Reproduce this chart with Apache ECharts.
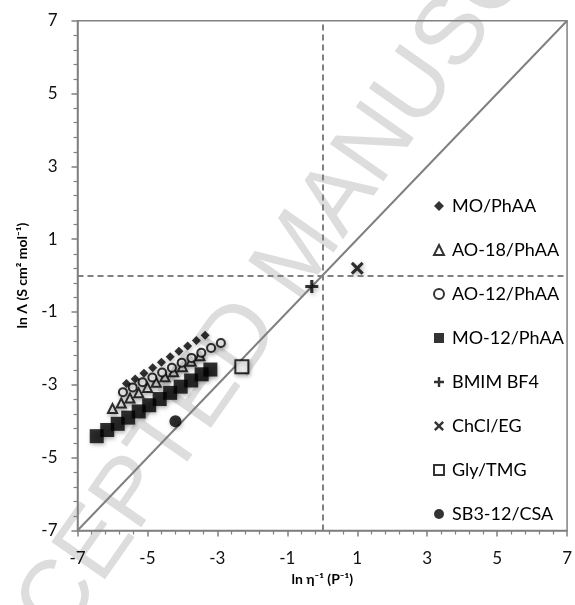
<!DOCTYPE html>
<html>
<head>
<meta charset="utf-8">
<script src="https://cdn.jsdelivr.net/npm/echarts@6/dist/echarts.min.js"></script>
<style>
html, body { margin: 0; padding: 0; background: #fff; }
#chart { width: 575px; height: 605px; }
</style>
</head>
<body>
<div id="chart"></div>
<script>
// values
const moPhaaX = [-5.6, -5.35, -5.1, -4.85, -4.6, -4.35, -4.1, -3.85, -3.6, -3.35]
const moPhaaY = [-2.96, -2.84, -2.68, -2.53, -2.38, -2.23, -2.08, -1.93, -1.78, -1.64]

const ao18X = [-6.0, -5.75, -5.5, -5.25, -5.0, -4.75, -4.5, -4.25, -4.0, -3.75, -3.5]
const ao18Y = [-3.65, -3.5, -3.36, -3.22, -3.07, -2.93, -2.78, -2.64, -2.5, -2.35, -2.2]

const ao12X = [-5.7, -5.42, -5.14, -4.86, -4.58, -4.3, -4.02, -3.74, -3.46, -3.18, -2.9]
const ao12Y = [-3.2, -3.07, -2.93, -2.8, -2.66, -2.53, -2.39, -2.26, -2.12, -1.99, -1.85]

const mo12X = [-6.45, -6.15, -5.85, -5.55, -5.25, -4.95, -4.65, -4.35, -4.05, -3.75, -3.45, -3.2]
const mo12Y = [-4.41, -4.24, -4.07, -3.9, -3.73, -3.56, -3.39, -3.22, -3.05, -2.88, -2.71, -2.58]

const bmimX = [-0.3]
const bmimY = [-0.3]
const chclX = [1.0]
const chclY = [0.2]
const glyX = [-2.3]
const glyY = [-2.5]
const sbX = [-4.2]
const sbY = [-4.0]

const names = ['MO/PhAA', 'AO-18/PhAA', 'AO-12/PhAA', 'MO-12/PhAA', 'BMIM BF4', 'ChCl/EG', 'Gly/TMG', 'SB3-12/CSA']

const zip = (xs, ys) => xs.map((x, i) => [x, ys[i]])

const plusPath = 'path://M0,3.8H10V6.2H0Z M3.8,0H6.2V10H3.8Z'
const crossPath = 'path://M0,1.7L1.7,0L5,3.3L8.3,0L10,1.7L6.7,5L10,8.3L8.3,10L5,6.7L1.7,10L0,8.3L3.3,5Z'

const shadow = {
  shadowBlur: 4,
  shadowColor: 'rgba(0,0,0,0.35)',
  shadowOffsetX: 1,
  shadowOffsetY: 2
}

const font = 'Lato'

const chart = echarts.init(document.getElementById('chart'))

const axisCommon = {
  type: 'value',
  min: -7,
  max: 7,
  interval: 2,
  axisLine: { onZero: false, lineStyle: { color: '#808080', width: 1.5 } },
  axisTick: { inside: false, length: 6, lineStyle: { color: '#808080', width: 1.5 } },
  minorTick: { show: true, splitNumber: 5, length: 4, lineStyle: { color: '#808080', width: 1.2 } },
  splitLine: { show: false },
  axisLabel: { color: '#111', fontSize: 17, fontFamily: font, margin: 20 }
}

const option = {
  backgroundColor: '#fff',
  animation: false,

  // faint page watermark
  graphic: [
    {
      type: 'text',
      x: 300,
      y: 255,
      rotation: Math.PI * 55 / 180,
      z: -10,
      silent: true,
      style: {
        text: 'ACCEPTED MANUSCRIPT',
        font: '95px "Liberation Sans"',
        fill: '#dddddd',
        align: 'center',
        verticalAlign: 'middle'
      }
    }
  ],

  grid: {
    left: 77.5,
    right: 3.5,
    top: 20.7,
    bottom: 74.5,
    show: true,
    borderColor: '#808080',
    borderWidth: 1.5,
    backgroundColor: 'transparent'
  },

  legend: {
    orient: 'vertical',
    left: 428,
    top: 191,
    itemWidth: 10,
    itemHeight: 10,
    itemGap: 24,
    data: names,
    textStyle: { color: '#000', fontSize: 18, fontFamily: font, lineHeight: 20, padding: [0, 0, 0, 3] }
  },

  xAxis: {
    ...axisCommon,
    name: 'ln η⁻¹ (P⁻¹)',
    nameLocation: 'middle',
    nameGap: 40,
    nameTextStyle: { color: '#000', fontSize: 14, fontWeight: 'bold', fontFamily: font }
  },

  yAxis: {
    ...axisCommon,
    name: 'ln Λ (S cm² mol⁻¹)',
    nameLocation: 'middle',
    nameGap: 48,
    nameTextStyle: { color: '#000', fontSize: 14, fontWeight: 'bold', fontFamily: font }
  },

  series: [
    {
      type: 'line',
      data: [[-7, -7], [7, 7]],
      symbol: 'none',
      silent: true,
      z: 1,
      lineStyle: { color: '#808080', width: 2 },
      markLine: {
        silent: true,
        symbol: 'none',
        label: { show: false },
        lineStyle: { color: '#808080', width: 2, type: [6, 4] },
        data: [{ xAxis: 0 }, { yAxis: 0 }]
      }
    },
    {
      name: names[3],
      type: 'scatter',
      data: zip(mo12X, mo12Y),
      symbol: 'rect',
      symbolSize: 14,
      itemStyle: { color: '#000', ...shadow }
    },
    {
      name: names[1],
      type: 'scatter',
      data: zip(ao18X, ao18Y),
      symbol: 'emptyTriangle',
      symbolSize: 9,
      itemStyle: { color: '#000', borderWidth: 2, ...shadow }
    },
    {
      name: names[2],
      type: 'scatter',
      data: zip(ao12X, ao12Y),
      symbol: 'emptyCircle',
      symbolSize: 8,
      itemStyle: { color: '#000', borderWidth: 2, ...shadow }
    },
    {
      name: names[0],
      type: 'scatter',
      data: zip(moPhaaX, moPhaaY),
      symbol: 'diamond',
      symbolSize: 9,
      itemStyle: { color: '#000', ...shadow }
    },
    {
      name: names[4],
      type: 'scatter',
      data: zip(bmimX, bmimY),
      symbol: plusPath,
      symbolSize: 13,
      itemStyle: { color: '#000', ...shadow }
    },
    {
      name: names[5],
      type: 'scatter',
      data: zip(chclX, chclY),
      symbol: crossPath,
      symbolSize: 13,
      itemStyle: { color: '#000', ...shadow }
    },
    {
      name: names[6],
      type: 'scatter',
      data: zip(glyX, glyY),
      symbol: 'emptyRect',
      symbolSize: 13,
      itemStyle: { color: '#000', borderWidth: 3, ...shadow }
    },
    {
      name: names[7],
      type: 'scatter',
      data: zip(sbX, sbY),
      symbol: 'circle',
      symbolSize: 12,
      itemStyle: { color: '#000', ...shadow }
    }
  ]
}

chart.setOption(option)
</script>
</body>
</html>
